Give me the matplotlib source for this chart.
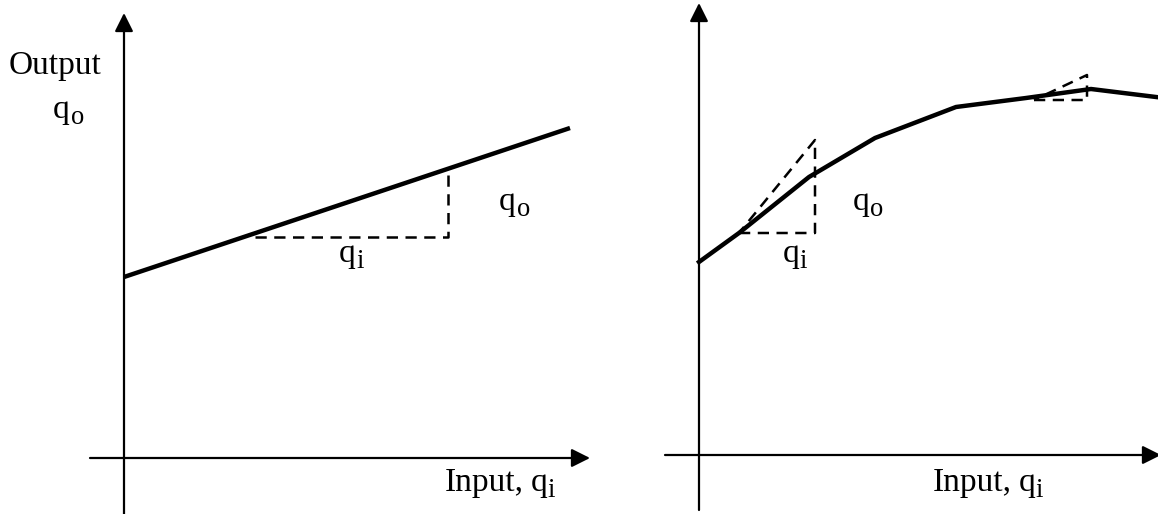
import matplotlib.pyplot as plt
from matplotlib.transforms import offset_copy

plt.rcParams['font.family'] = 'Liberation Serif'

# linear instrument: output = intercept + slope * input
lin_x = [0, 446]
lin_y = [181, 330]
# slope triangle (left)
lin_tri_x = [131, 324]
lin_tri_y = [221, 290]

# non-linear instrument (polyline)
curve_x = [0, 40, 110, 176, 257, 327, 392, 457]
curve_y = [193, 222, 278, 317, 348, 357, 366, 358]
# tangent triangles (right): x0, y0, x1, y1
tangents = [(40, 222, 116, 315), (335, 355, 388, 380)]

fig = plt.figure(figsize=(11.58, 5.14), dpi=100)
ax1 = fig.add_axes([0, 0, 0.5, 1])
ax2 = fig.add_axes([0.5, 0, 0.5, 1])

ax1.set_xlim(-124, 455)
ax1.set_ylim(-56, 458)
ax2.set_xlim(-120, 459)
ax2.set_ylim(-59, 455)

arrow = dict(arrowstyle='-|>', mutation_scale=28, lw=1.6, color='black',
             shrinkA=0, shrinkB=0)


def draw_axes(ax, xlo, xhi, ylo, yhi):
    ax.annotate('', xy=(xhi, 0), xytext=(xlo, 0), arrowprops=arrow,
                annotation_clip=False)
    ax.annotate('', xy=(0, yhi), xytext=(0, ylo), arrowprops=arrow,
                annotation_clip=False)
    ax.axis('off')


def sub_text(ax, x, y, base, sub, size=24):
    # base letter ending at x, subscript starting at x and a bit lower
    ax.text(x, y, base, fontsize=size, ha='right', va='baseline')
    tr = offset_copy(ax.transData, fig=fig, x=0.5, y=-4, units='points')
    ax.text(x, y, sub, fontsize=size * 0.8, ha='left', va='baseline',
            transform=tr)


draw_axes(ax1, -34, 466, -60, 445)
draw_axes(ax2, -34, 462, -55, 452)

dash = dict(color='black', lw=1.8, ls=(0, (4.5, 3)))

# left panel
ax1.plot(lin_x, lin_y, color='black', lw=3.2, solid_capstyle='butt')
ax1.plot([lin_tri_x[0], lin_tri_x[1], lin_tri_x[1]],
         [lin_tri_y[0], lin_tri_y[0], lin_tri_y[1]], **dash)
ax1.text(-69, 384, 'Output', fontsize=24, ha='center', va='baseline')
sub_text(ax1, -54, 340, 'q', 'o')
sub_text(ax1, 392, 248, 'q', 'o')
sub_text(ax1, 232, 196, 'q', 'i')
ax1.text(400, -33, 'Input,', fontsize=24, ha='right', va='baseline')
sub_text(ax1, 423, -33, 'q', 'i')

# right panel
ax2.plot(curve_x, curve_y, color='black', lw=3.2, solid_joinstyle='round')
for x0, y0, x1, y1 in tangents:
    ax2.plot([x0, x1, x1, x0], [y0, y0, y1, y0], **dash)
sub_text(ax2, 170, 245, 'q', 'o')
sub_text(ax2, 100, 193, 'q', 'i')
ax2.text(313, -36, 'Input,', fontsize=24, ha='right', va='baseline')
sub_text(ax2, 336, -36, 'q', 'i')

fig.savefig('out.png', dpi=100)
